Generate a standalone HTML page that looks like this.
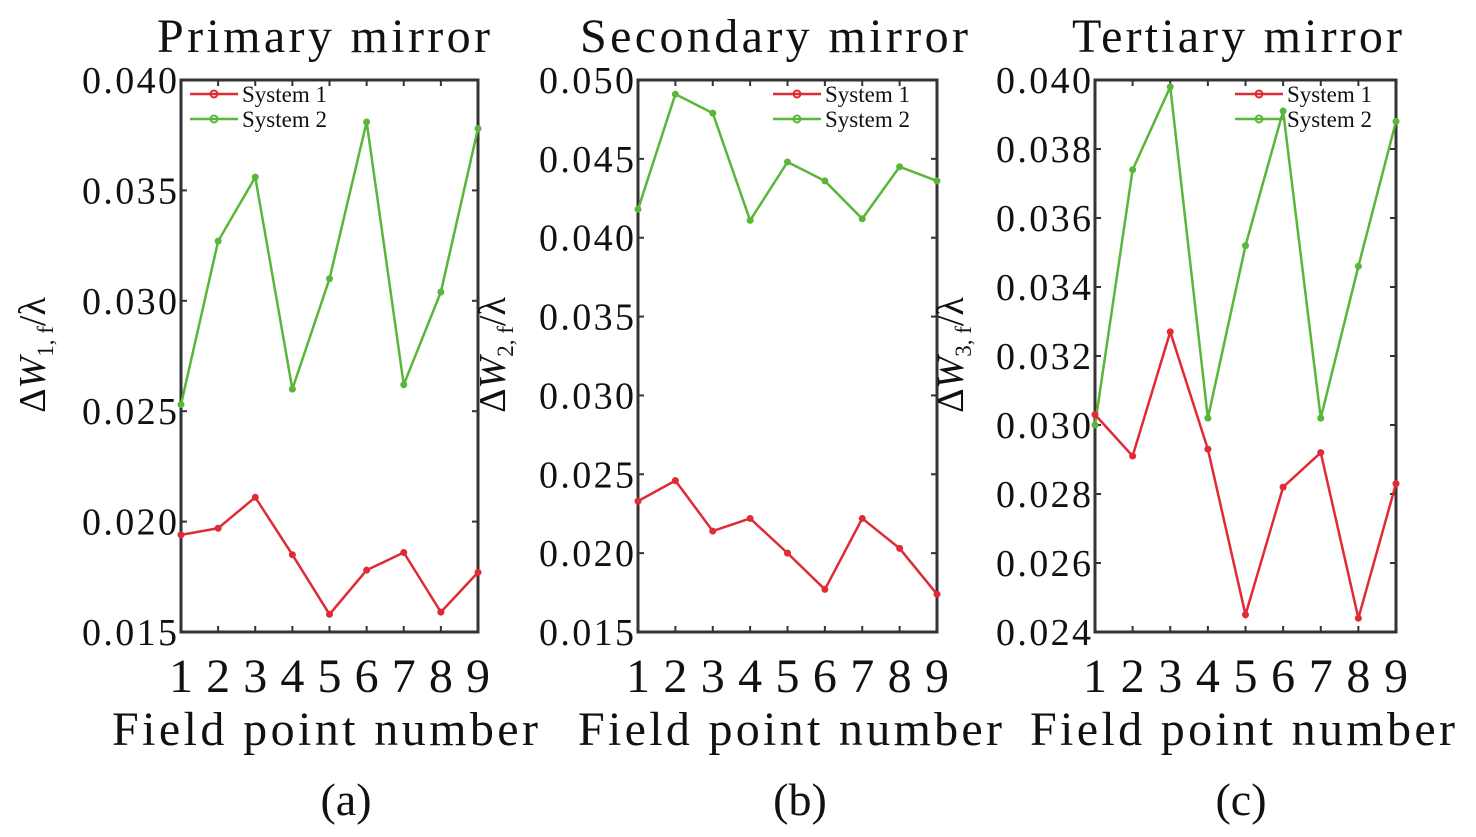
<!DOCTYPE html>
<html><head><meta charset="utf-8"><style>
html,body{margin:0;padding:0;background:#fff;}
svg{display:block;font-family:"Liberation Serif",serif;}
</style></head><body>
<svg id="s" width="1476" height="837" viewBox="0 0 1476 837" xmlns="http://www.w3.org/2000/svg"></svg>
<script>
const S=document.getElementById('s');let h='';
const P=[
 {L:181,R:478,T:80,B:632,min:0.015,max:0.040,ticks:[0.015,0.020,0.025,0.030,0.035,0.040],title:'Primary mirror',t0:157,t1:490,f0:112,f1:538,lc:346,n:'1',lab:'(a)',
  s2:[0.0253,0.0327,0.0356,0.0260,0.0310,0.0381,0.0262,0.0304,0.0378],s1:[0.0194,0.0197,0.0211,0.0185,0.0158,0.0178,0.0186,0.0159,0.0177],lx:190,yl:45},
 {L:638,R:937,T:80,B:632,min:0.015,max:0.050,ticks:[0.015,0.020,0.025,0.030,0.035,0.040,0.045,0.050],title:'Secondary mirror',t0:580,t1:968,f0:578,f1:1002,lc:800,n:'2',lab:'(b)',
  s2:[0.0418,0.0491,0.0479,0.0411,0.0448,0.0436,0.0412,0.0445,0.0436],s1:[0.0233,0.0246,0.0214,0.0222,0.0200,0.0177,0.0222,0.0203,0.0174],lx:773,yl:505},
 {L:1095,R:1396,T:80,B:632,min:0.024,max:0.040,ticks:[0.024,0.026,0.028,0.030,0.032,0.034,0.036,0.038,0.040],title:'Tertiary mirror',t0:1072,t1:1402,f0:1030,f1:1455,lc:1241,n:'3',lab:'(c)',
  s2:[0.0300,0.0374,0.0398,0.0302,0.0352,0.0391,0.0302,0.0346,0.0388],s1:[0.0303,0.0291,0.0327,0.0293,0.0245,0.0282,0.0292,0.0244,0.0283],lx:1235,yl:963}
];
for(const p of P){
 const X=i=>p.L+(p.R-p.L)*i/8, Y=v=>p.B-(v-p.min)/(p.max-p.min)*(p.B-p.T);
 h+=`<text x="${p.t0}" y="52" font-size="48" textLength="${p.t1-p.t0}" lengthAdjust="spacing" fill="#111">${p.title}</text>`;
 h+=`<rect x="${p.L}" y="${p.T}" width="${p.R-p.L}" height="${p.B-p.T}" fill="none" stroke="#333" stroke-width="3"/>`;
 for(const t of p.ticks){const y=Y(t);h+=`<line x1="${p.L}" x2="${p.L+6}" y1="${y}" y2="${y}" stroke="#333" stroke-width="2"/><line x1="${p.R}" x2="${p.R-6}" y1="${y}" y2="${y}" stroke="#333" stroke-width="2"/>`;
  h+=`<text x="${p.L-99}" y="${y+13}" font-size="38" textLength="95" lengthAdjust="spacing" fill="#111">${t.toFixed(3)}</text>`;}
 for(let i=0;i<9;i++){const x=X(i);h+=`<line x1="${x}" x2="${x}" y1="${p.B}" y2="${p.B-6}" stroke="#333" stroke-width="2"/><line x1="${x}" x2="${x}" y1="${p.T}" y2="${p.T+6}" stroke="#333" stroke-width="2"/>`;
  h+=`<text x="${x}" y="${p.B+60}" font-size="48" text-anchor="middle" fill="#111">${i+1}</text>`;}
 for(const [d,c] of [[p.s2,'#5ab63a'],[p.s1,'#e02a35']]){
  h+=`<polyline fill="none" stroke="${c}" stroke-width="2.5" points="${d.map((v,i)=>X(i)+','+Y(v)).join(' ')}"/>`;
  d.forEach((v,i)=>h+=`<circle cx="${X(i)}" cy="${Y(v)}" r="3.5" fill="${c}"/>`);}
 const lx=p.lx, ly1=p.T+14, ly2=p.T+39;
 h+=`<line x1="${lx}" x2="${lx+48}" y1="${ly1}" y2="${ly1}" stroke="#e02a35" stroke-width="2.5"/><circle cx="${lx+24}" cy="${ly1}" r="3.5" fill="none" stroke="#e02a35" stroke-width="2"/>`;
 h+=`<line x1="${lx}" x2="${lx+48}" y1="${ly2}" y2="${ly2}" stroke="#5ab63a" stroke-width="2.5"/><circle cx="${lx+24}" cy="${ly2}" r="3.5" fill="none" stroke="#5ab63a" stroke-width="2"/>`;
 h+=`<text x="${lx+52}" y="${ly1+8}" font-size="23" fill="#111">System 1</text><text x="${lx+52}" y="${ly2+8}" font-size="23" fill="#111">System 2</text>`;
 h+=`<text x="${p.f0}" y="745" font-size="48" textLength="${p.f1-p.f0}" lengthAdjust="spacing" fill="#111">Field point number</text>`;
 h+=`<text x="${p.lc}" y="815" font-size="46" text-anchor="middle" fill="#111">${p.lab}</text>`;
 h+=`<text transform="translate(${p.yl},${355}) rotate(-90)" font-size="38" text-anchor="middle" fill="#111">Δ<tspan font-style="italic">W</tspan><tspan font-size="23" dy="8">${p.n}, f</tspan><tspan dy="-8">/λ</tspan></text>`;
}
S.innerHTML=h;
</script>
</body></html>
